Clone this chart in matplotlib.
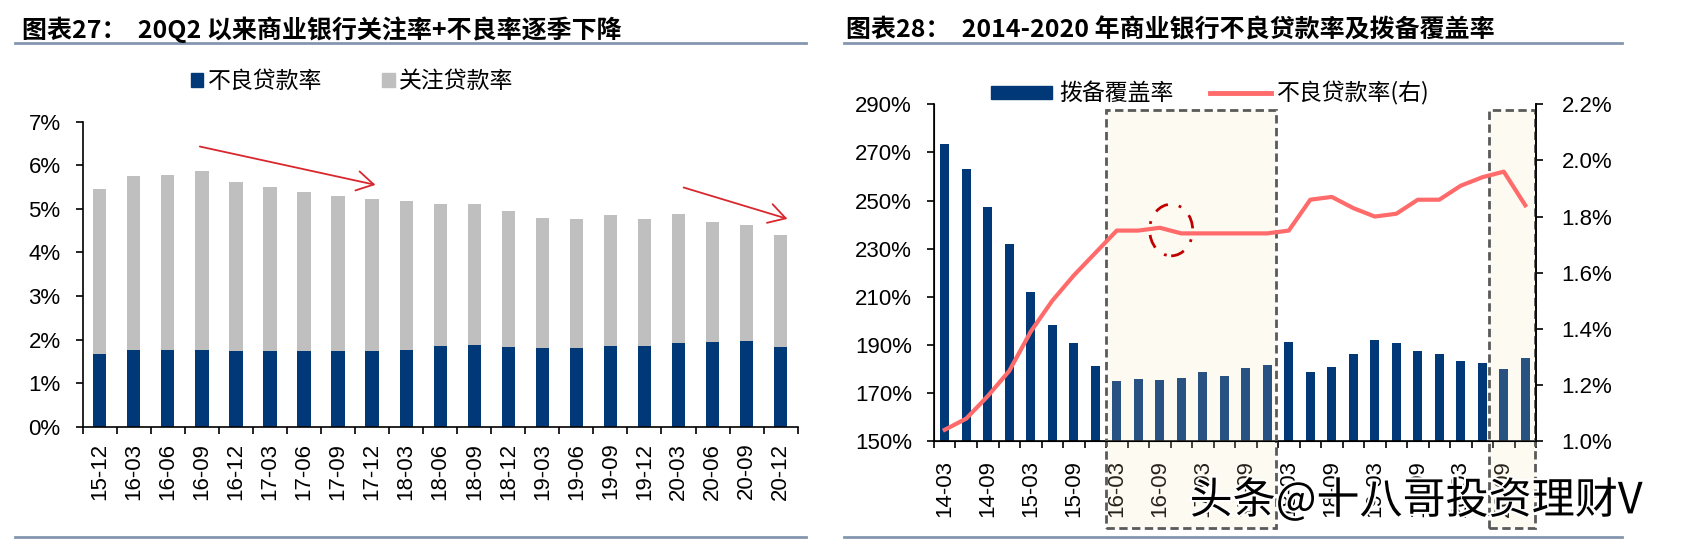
import matplotlib
matplotlib.use("Agg")
import matplotlib.pyplot as plt
import matplotlib.patheffects as pe
from matplotlib.patches import Patch, Rectangle, Ellipse
from matplotlib.lines import Line2D
from matplotlib.ticker import FixedLocator, FuncFormatter
import numpy as np

plt.rcParams['font.family'] = ['Liberation Sans', 'Noto Sans CJK SC', 'DejaVu Sans']
CJK = ['Noto Sans CJK SC', 'DejaVu Sans']

NAVY = '#003878'
GREY = '#BFBFBF'
SALMON = '#FF6B6B'
ARROW_RED = '#D9272E'
RULE = '#8497B0'

# chart 27: NPL ratio + special mention ratio, quarterly
quarters = ["15-12", "16-03", "16-06", "16-09", "16-12", "17-03", "17-06",
            "17-09", "17-12", "18-03", "18-06", "18-09", "18-12", "19-03",
            "19-06", "19-09", "19-12", "20-03", "20-06", "20-09", "20-12"]
npl_q = [1.67, 1.75, 1.75, 1.76, 1.74, 1.74, 1.74, 1.74, 1.74, 1.75, 1.86,
         1.87, 1.83, 1.80, 1.81, 1.86, 1.86, 1.91, 1.94, 1.96, 1.84]
special_q = [3.79, 4.00, 4.03, 4.10, 3.87, 3.77, 3.65, 3.55, 3.49, 3.42, 3.25,
             3.24, 3.13, 3.00, 2.95, 2.99, 2.91, 2.97, 2.75, 2.66, 2.57]

# chart 28: provision coverage (left) and NPL ratio (right), 2014-2020
periods = ["14-03", "14-06", "14-09", "14-12", "15-03", "15-06", "15-09", "15-12",
           "16-03", "16-06", "16-09", "16-12", "17-03", "17-06", "17-09", "17-12",
           "18-03", "18-06", "18-09", "18-12", "19-03", "19-06", "19-09", "19-12",
           "20-03", "20-06", "20-09", "20-12"]
coverage = [273.7, 262.9, 247.2, 232.1, 211.9, 198.4, 190.8, 181.2,
            175.0, 175.9, 175.5, 176.4, 178.8, 177.2, 180.4, 181.4,
            191.3, 178.7, 180.7, 186.3, 192.2, 190.6, 187.6, 186.1,
            183.2, 182.4, 179.9, 184.5]
npl_rate = [1.04, 1.08, 1.16, 1.25, 1.39, 1.50, 1.59, 1.67,
            1.75, 1.75, 1.76, 1.74, 1.74, 1.74, 1.74, 1.74,
            1.75, 1.86, 1.87, 1.83, 1.80, 1.81, 1.86, 1.86,
            1.91, 1.94, 1.96, 1.84]

fig = plt.figure(figsize=(16.85, 5.45), dpi=100)


def style_axis(ax, n):
    """boundary ticks between bars, labels under bars"""
    ax.set_xlim(-0.5, n - 0.5)
    ax.xaxis.set_minor_locator(FixedLocator(np.arange(-0.5, n, 1.0)))
    ax.tick_params(axis='x', which='minor', length=5, width=1.2, direction='out')
    ax.tick_params(axis='x', which='major', length=0, pad=11.5, labelsize=16)
    ax.tick_params(axis='y', length=5, width=1.2, pad=11, labelsize=16)
    ax.spines['top'].set_visible(False)
    for s in ('left', 'bottom', 'right'):
        ax.spines[s].set_linewidth(1.2)


# ---------------- left chart ----------------
ax1 = fig.add_axes([0.0491, 0.2171, 0.4243, 0.5596])
x1 = np.arange(len(quarters))
ax1.bar(x1, npl_q, width=0.39, color=NAVY, label='不良贷款率')
ax1.bar(x1, special_q, width=0.39, bottom=npl_q, color=GREY, label='关注贷款率')
style_axis(ax1, len(quarters))
ax1.spines['right'].set_visible(False)
ax1.set_ylim(0, 7)
ax1.set_yticks(range(0, 8))
ax1.yaxis.set_major_formatter(FuncFormatter(lambda v, p: f"{v:.0f}%"))
ax1.set_xticks(x1)
ax1.set_xticklabels(quarters, rotation=90)

arrow = dict(arrowstyle='->,head_length=0.6,head_width=0.35', color=ARROW_RED,
             lw=1.3, mutation_scale=20, shrinkA=0, shrinkB=0)
ax1.annotate('', xy=(8.1, 5.55), xytext=(2.94, 6.43), arrowprops=arrow)
ax1.annotate('', xy=(20.2, 4.77), xytext=(17.15, 5.49), arrowprops=arrow,
             annotation_clip=False)

leg1 = ax1.legend(handles=[Patch(color=NAVY, label='不良贷款率'),
                           Patch(color=GREY, label='关注贷款率')],
                  loc='center left', bbox_to_anchor=(0.101, 0.85),
                  bbox_transform=fig.transFigure, ncol=2, frameon=False,
                  prop=dict(family=CJK, size=16.5), handlelength=0.55,
                  handleheight=0.55, handletextpad=0.2, columnspacing=2.6)

# ---------------- right chart ----------------
ax2 = fig.add_axes([0.5543, 0.1908, 0.3573, 0.6178])
x2 = np.arange(len(periods))
ax2.bar(x2, coverage, width=0.4, color=NAVY, zorder=2)
style_axis(ax2, len(periods))
ax2.set_ylim(150, 290)
ax2.set_yticks(range(150, 291, 20))
ax2.yaxis.set_major_formatter(FuncFormatter(lambda v, p: f"{v:.0f}%"))
ax2.set_xticks(x2[::2])
ax2.set_xticklabels(periods[::2], rotation=90)
ax2.tick_params(axis='x', which='major', pad=14)

ax3 = ax2.twinx()
ax3.set_ylim(1.0, 2.2)
ax3.set_yticks(np.arange(1.0, 2.21, 0.2))
ax3.yaxis.set_major_formatter(FuncFormatter(lambda v, p: f"{v:.1f}%"))
ax3.tick_params(axis='y', length=5, width=1.2, pad=13.5, labelsize=16)
ax3.spines['top'].set_visible(False)
ax3.spines['right'].set_linewidth(1.2)
ax3.plot(x2, npl_rate, color=SALMON, lw=3, zorder=4, solid_joinstyle='round')

# highlighted windows
for left, right in [(7.5, 15.4), (25.3, 27.45)]:
    box = Rectangle((left, -0.258), right - left, 0.983 + 0.258,
                    transform=ax3.get_xaxis_transform(), clip_on=False,
                    facecolor=(0.97, 0.88, 0.70, 0.16), edgecolor='#5A5A5A',
                    lw=2, linestyle=(0, (3, 1.6)), zorder=2)
    ax3.add_patch(box)

ax3.add_patch(Ellipse((10.53, 1.752), 2.0, 0.184, fill=False,
                      edgecolor='#C00000', lw=2, linestyle=(0, (5, 4, 1, 4)),
                      zorder=5))

leg2 = ax2.legend(handles=[Patch(color=NAVY, label='拨备覆盖率'),
                           Line2D([], [], color=SALMON, lw=3.5, label='不良贷款率(右)')],
                  loc='center left', bbox_to_anchor=(0.576, 0.829),
                  bbox_transform=fig.transFigure, ncol=2, frameon=False,
                  prop=dict(family=CJK, size=16.5), handlelength=2.65,
                  handleheight=0.5, handletextpad=0.3, columnspacing=1.6)

# ---------------- titles and rules ----------------
fig.text(0.013, 0.945, '图表27：  20Q2 以来商业银行关注率+不良率逐季下降',
         family=CJK, weight='bold', size=18, va='center', ha='left')
fig.text(0.502, 0.945, '图表28：  2014-2020 年商业银行不良贷款率及拨备覆盖率',
         family=CJK, weight='bold', size=18, va='center', ha='left')
for x0, x1_ in [(0.009, 0.4783), (0.501, 0.9626)]:
    for yy in (0.921, 0.0147):
        fig.add_artist(Line2D([x0, x1_], [yy, yy], color=RULE, lw=2))

fig.text(0.706, 0.08, '头条@十八哥投资理财V', family=CJK, size=31,
         va='center', ha='left', color='black',
         path_effects=[pe.withStroke(linewidth=3, foreground='white')])

fig.savefig('out.png', dpi=100)
